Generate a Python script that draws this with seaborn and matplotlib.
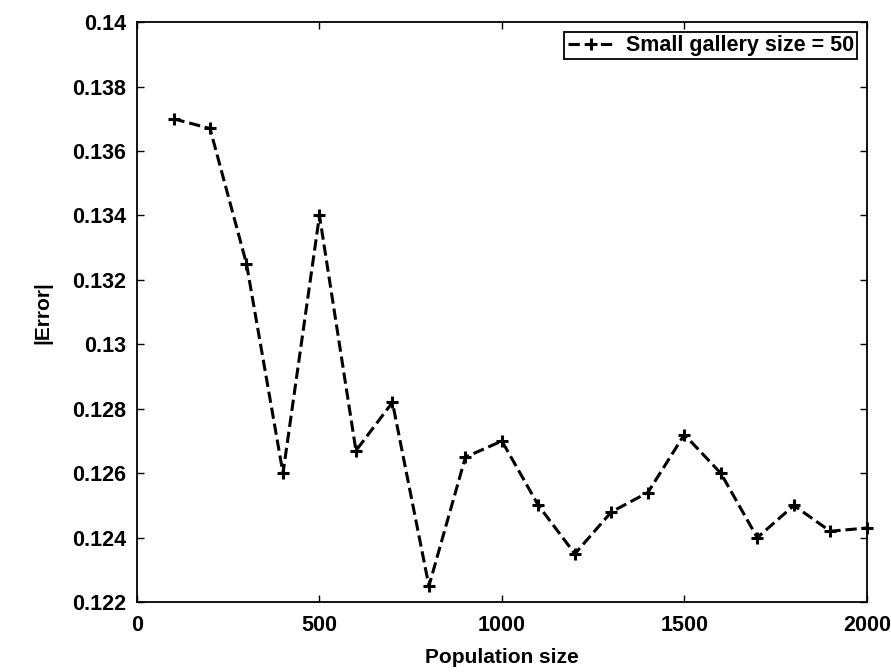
import matplotlib
matplotlib.use("Agg")
import matplotlib.pyplot as plt
import seaborn as sns
import pandas as pd

population = [100, 200, 300, 400, 500, 600, 700, 800, 900, 1000,
              1100, 1200, 1300, 1400, 1500, 1600, 1700, 1800, 1900, 2000]
error = [0.1370, 0.1367, 0.1325, 0.1260, 0.1340, 0.1267, 0.1282, 0.1225, 0.1265, 0.1270,
         0.1250, 0.1235, 0.1248, 0.1254, 0.1272, 0.1260, 0.1240, 0.1250, 0.1242, 0.1243]
series_label = "Small gallery size = 50"
xticks = [0, 500, 1000, 1500, 2000]
yticks = [0.122, 0.124, 0.126, 0.128, 0.13, 0.132, 0.134, 0.136, 0.138, 0.14]
ytick_labels = ["0.122", "0.124", "0.126", "0.128", "0.13", "0.132", "0.134", "0.136", "0.138", "0.14"]

sns.set_style("ticks")
plt.rcParams["font.family"] = ["Liberation Sans", "DejaVu Sans"]
plt.rcParams["font.weight"] = "bold"
plt.rcParams["text.color"] = "black"
plt.rcParams["axes.labelcolor"] = "black"
plt.rcParams["xtick.color"] = "black"
plt.rcParams["ytick.color"] = "black"

df = pd.DataFrame({"Population size": population, "|Error|": error})

fig = plt.figure(figsize=(8.91, 6.72), dpi=100)
ax = fig.add_axes([0.1538, 0.104, 0.819, 0.863])

sns.lineplot(data=df, x="Population size", y="|Error|", ax=ax, color="black",
             linestyle="--", linewidth=2.2, marker="+", markersize=9,
             markeredgewidth=2.2, markeredgecolor="black", label=series_label,
             clip_on=False)

ax.set_xlim(0, 2000)
ax.set_ylim(0.122, 0.14)
ax.set_xticks(xticks)
ax.set_xticklabels([str(t) for t in xticks])
ax.set_yticks(yticks)
ax.set_yticklabels(ytick_labels)
ax.tick_params(direction="in", top=True, right=True, length=5, width=1,
               labelsize=15.5, labelcolor="black", pad=9)
ax.tick_params(axis="y", pad=8)
for lab in ax.get_xticklabels() + ax.get_yticklabels():
    lab.set_fontweight("bold")
for s in ax.spines.values():
    s.set_visible(True)
    s.set_linewidth(1.3)
    s.set_color("black")

ax.set_xlabel("Population size", fontsize=15, fontweight="bold", labelpad=9)
ax.set_ylabel("|Error|", fontsize=15, fontweight="bold", labelpad=14)

leg = ax.legend(loc="upper right", fontsize=15.5, frameon=True, fancybox=False,
                borderpad=0.15, handlelength=2.2, handletextpad=0.5,
                borderaxespad=0.45)
leg.get_frame().set_edgecolor("black")
leg.get_frame().set_linewidth(1.3)
leg.get_frame().set_alpha(1)
for t in leg.get_texts():
    t.set_fontweight("bold")
    t.set_color("black")

fig.savefig("out.png", dpi=100)
